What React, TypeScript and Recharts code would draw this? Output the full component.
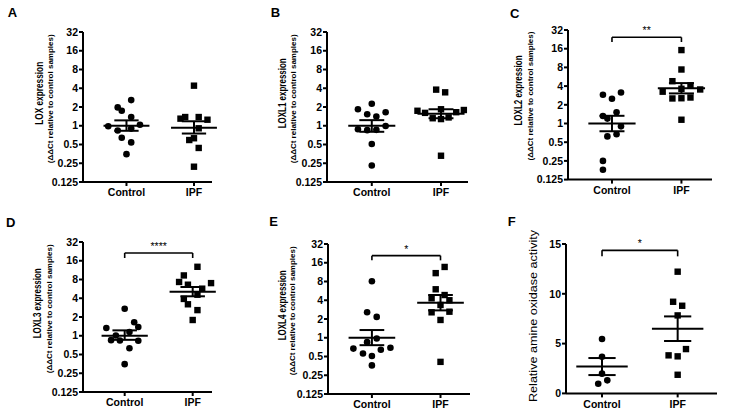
import React from 'react';
import { ScatterChart, Scatter, XAxis, YAxis, ReferenceLine } from 'recharts';

const FONT = "'Liberation Sans', Arial, Helvetica, sans-serif";

const groups = ['Control', 'IPF'];
const panelLetters = ['A', 'B', 'C', 'D', 'E', 'F'];
const logTicks = [0.125, 0.25, 0.5, 1, 2, 4, 8, 16, 32];
const linTicks = [0, 5, 10, 15];
const yTitles = ['LOX expression', 'LOXL1 expression', 'LOXL2 expression', 'LOXL3 expression', 'LOXL4 expression', 'Relative amine oxidase activity'];
const ySubTitle = '(\u0394\u0394Ct relative to control samples)';

// A – LOX
const loxCtrl = [0.98, 1.97, 1.74, 2.58, 1.38, 1.04, 0.84, 0.9, 0.64, 0.54, 0.35];
const loxCtrlJit = [-0.27, -0.13, -0.07, 0.07, 0.07, 0.2, -0.13, 0.07, -0.07, 0.07, 0];
const loxIpf = [4.4, 1.3, 1.38, 1.38, 1.25, 0.91, 0.59, 0.63, 0.44, 0.22];
const loxIpfJit = [0, -0.2, -0.13, 0.07, 0.2, 0.07, -0.07, 0, 0.07, 0];
const loxMean = [1.0, 0.93];
const loxSemLo = [0.83, 0.75];
const loxSemHi = [1.22, 1.18];

// B – LOXL1
const loxl1Ctrl = [1.84, 2.26, 1.53, 1.41, 1.65, 0.88, 0.85, 0.86, 0.99, 0.51, 0.23];
const loxl1CtrlJit = [-0.2, 0, -0.066, 0.066, 0.2, -0.2, -0.066, 0.066, 0.2, 0, 0];
const loxl1Ipf = [3.8, 3.44, 1.74, 1.61, 1.84, 1.65, 1.79, 1.32, 1.28, 1.36, 0.33];
const loxl1IpfJit = [-0.07, 0.06, -0.34, -0.23, 0, 0.22, 0.33, -0.12, 0, 0.11, 0];
const loxl1Mean = [1.0, 1.56];
const loxl1SemLo = [0.8, 1.32];
const loxl1SemHi = [1.23, 1.84];

// C – LOXL2
const loxl2Ctrl = [2.9, 2.5, 3.15, 1.32, 1.2, 1.52, 0.9, 0.62, 0.67, 0.25, 0.18];
const loxl2CtrlJit = [-0.13, 0, 0.13, -0.13, -0.066, 0.066, 0.13, -0.066, 0.066, -0.13, -0.13];
const loxl2Ipf = [15.2, 7.4, 4.8, 3.25, 3.62, 4.1, 3.53, 2.53, 2.55, 2.62, 1.15];
const loxl2IpfJit = [0, 0, -0.13, -0.27, 0, 0.13, 0.27, -0.13, 0, 0.13, 0];
const loxl2Mean = [1.0, 3.7];
const loxl2SemLo = [0.75, 3.05];
const loxl2SemHi = [1.33, 4.47];

// D – LOXL3
const loxl3Ctrl = [2.72, 1.65, 1.33, 1.38, 1.01, 1.15, 0.85, 0.84, 0.83, 0.63, 0.35];
const loxl3CtrlJit = [0, 0.14, -0.27, 0.2, -0.13, 0.07, -0.2, -0.07, 0.2, 0.07, 0];
const loxl3Ipf = [12.8, 9.3, 7.3, 6.6, 7.0, 5.7, 3.9, 4.56, 3.2, 2.58, 1.79];
const loxl3IpfJit = [0.07, -0.13, -0.2, -0.07, 0.27, 0.14, -0.13, 0.07, -0.07, 0.07, 0];
const loxl3Mean = [1.0, 5.1];
const loxl3SemLo = [0.86, 4.3];
const loxl3SemHi = [1.22, 6.06];

// E – LOXL4
const loxl4Ctrl = [8.06, 2.56, 2.16, 0.97, 0.85, 0.67, 0.64, 0.69, 0.56, 0.51, 0.36];
const loxl4CtrlJit = [0, -0.07, 0.07, 0.07, -0.07, -0.27, 0.13, 0.27, -0.13, 0, 0];
const loxl4Ipf = [13.7, 10.9, 6.0, 4.85, 4.3, 4.0, 3.36, 2.56, 2.62, 1.93, 0.41];
const loxl4IpfJit = [0.06, -0.07, -0.07, 0.06, -0.13, 0.13, 0, -0.13, 0.13, 0, 0];
const loxl4Mean = [1.0, 3.66];
const loxl4SemLo = [0.76, 2.75];
const loxl4SemHi = [1.33, 4.86];

// F – amine oxidase activity
const aoCtrl = [5.46, 3.68, 1.98, 0.97, 1.31];
const aoCtrlJit = [0, 0, 0, -0.05, 0.07];
const aoIpf = [12.22, 9.2, 8.8, 7.83, 3.82, 3.72, 4.45, 1.87];
const aoIpfJit = [0, -0.06, 0.06, 0, -0.12, 0, 0.11, 0];
const aoMean = [2.71, 6.5];
const aoSemLo = [1.84, 5.26];
const aoSemHi = [3.55, 7.73];

// significance brackets
const sigText = ['', '', '**', '****', '*', '*'];
const sigBracketY = [0, 0, 24.4, 21.3, 20.8, 14.36];
const sigBracketEnd = [0, 0, 20.5, 17.7, 17.5, 13.76];

const panelData = [
  { ctrl: loxCtrl, ctrlJit: loxCtrlJit, ipf: loxIpf, ipfJit: loxIpfJit, mean: loxMean, lo: loxSemLo, hi: loxSemHi, log: true },
  { ctrl: loxl1Ctrl, ctrlJit: loxl1CtrlJit, ipf: loxl1Ipf, ipfJit: loxl1IpfJit, mean: loxl1Mean, lo: loxl1SemLo, hi: loxl1SemHi, log: true },
  { ctrl: loxl2Ctrl, ctrlJit: loxl2CtrlJit, ipf: loxl2Ipf, ipfJit: loxl2IpfJit, mean: loxl2Mean, lo: loxl2SemLo, hi: loxl2SemHi, log: true },
  { ctrl: loxl3Ctrl, ctrlJit: loxl3CtrlJit, ipf: loxl3Ipf, ipfJit: loxl3IpfJit, mean: loxl3Mean, lo: loxl3SemLo, hi: loxl3SemHi, log: true },
  { ctrl: loxl4Ctrl, ctrlJit: loxl4CtrlJit, ipf: loxl4Ipf, ipfJit: loxl4IpfJit, mean: loxl4Mean, lo: loxl4SemLo, hi: loxl4SemHi, log: true },
  { ctrl: aoCtrl, ctrlJit: aoCtrlJit, ipf: aoIpf, ipfJit: aoIpfJit, mean: aoMean, lo: aoSemLo, hi: aoSemHi, log: false },
];

// layout (pixels)
const YW = 40;
const MT = 22;
const MR = 22;
const XH = 26;
const layout = [
  { left: 83, right: 212, top: 32.3, bottom: 182.3, xDomain: [0.356, 2.267] },
  { left: 327, right: 468, top: 32.3, bottom: 182.3, xDomain: [0.353, 2.39] },
  { left: 568, right: 712, top: 29.7, bottom: 179.3, xDomain: [0.367, 2.44] },
  { left: 83, right: 212, top: 242.3, bottom: 392.3, xDomain: [0.387, 2.284] },
  { left: 328, right: 470, top: 244.3, bottom: 394.3, xDomain: [0.36, 2.43] },
  { left: 566, right: 717, top: 244.3, bottom: 393.7, xDomain: [0.524, 2.52] },
];
const letterPos = [[12.5, 12], [275.5, 12], [514.7, 13.7], [10.8, 222], [273.7, 221.3], [511.8, 221]];
const titleX = [38.7, 282, 518, 37.3, 282, 532.5];
const subX = [50, 293.5, 530, 49.5, 292.5];
const titleLen = [63, 70, 70, 70, 70, 172];

const MEAN_HW = 0.34;
const SEM_HW = 0.18;
const LW = 2;

const circleShape = (p: any) => <circle cx={p.cx} cy={p.cy} r={3.3} fill="#000" />;
const squareShape = (p: any) => <rect x={p.cx - 3.2} y={p.cy - 3.2} width={6.4} height={6.4} fill="#000" />;

function Panel({ idx }: { idx: number }) {
  const g = layout[idx];
  const d = panelData[idx];
  const w = g.right - g.left + YW + MR;
  const h = g.bottom - g.top + MT + XH;
  const ctrlData = d.ctrl.map((v, i) => ({ x: 1 + d.ctrlJit[i], y: v }));
  const ipfData = d.ipf.map((v, i) => ({ x: 2 + d.ipfJit[i], y: v }));
  const lineProps = { stroke: '#000', strokeWidth: LW, ifOverflow: 'visible' as const };
  const segs: any[] = [];
  [1, 2].forEach((gx, k) => {
    segs.push([{ x: gx - MEAN_HW, y: d.mean[k] }, { x: gx + MEAN_HW, y: d.mean[k] }]);
    segs.push([{ x: gx - SEM_HW, y: d.lo[k] }, { x: gx + SEM_HW, y: d.lo[k] }]);
    segs.push([{ x: gx - SEM_HW, y: d.hi[k] }, { x: gx + SEM_HW, y: d.hi[k] }]);
    segs.push([{ x: gx, y: d.lo[k] }, { x: gx, y: d.hi[k] }]);
  });
  const hasSig = sigText[idx] !== '';
  const tickStyle = { fill: '#000', fontSize: 10.5, fontWeight: 700, fontFamily: FONT };
  return (
    <div style={{ position: 'absolute', left: g.left - YW, top: g.top - MT, width: w, height: h }}>
      <ScatterChart width={w} height={h} margin={{ top: MT, right: MR, bottom: 0, left: 0 }}>
        <XAxis
          type="number"
          dataKey="x"
          domain={g.xDomain}
          ticks={[1, 2]}
          tickFormatter={(v: number) => groups[v - 1]}
          height={XH}
          tickSize={4}
          tickMargin={3}
          axisLine={{ stroke: '#000', strokeWidth: LW }}
          tickLine={{ stroke: '#000', strokeWidth: LW }}
          tick={{ fill: '#000', fontSize: 10.5, fontWeight: 700, fontFamily: FONT }}
        />
        <YAxis
          type="number"
          dataKey="y"
          width={YW}
          scale={d.log ? 'log' : 'linear'}
          domain={d.log ? [0.125, 32] : [0, 15]}
          ticks={d.log ? logTicks : linTicks}
          tickFormatter={(v: number) => String(v)}
          tickSize={4}
          tickMargin={1}
          interval={0}
          axisLine={{ stroke: '#000', strokeWidth: LW }}
          tickLine={{ stroke: '#000', strokeWidth: LW }}
          tick={tickStyle}
        />
        <Scatter data={ctrlData} shape={circleShape} isAnimationActive={false} />
        <Scatter data={ipfData} shape={squareShape} isAnimationActive={false} />
        {segs.map((s, i) => (
          <ReferenceLine key={i} segment={s} {...lineProps} />
        ))}
        {hasSig && (
          <ReferenceLine
            segment={[{ x: 1, y: sigBracketY[idx] }, { x: 2, y: sigBracketY[idx] }]}
            stroke="#000"
            strokeWidth={1.6}
            ifOverflow="visible"
            label={{ value: sigText[idx], position: 'top', offset: 3, fill: '#000', fontSize: 10.5, fontFamily: FONT }}
          />
        )}
        {hasSig && (
          <ReferenceLine segment={[{ x: 1, y: sigBracketY[idx] }, { x: 1, y: sigBracketEnd[idx] }]} stroke="#000" strokeWidth={1.6} ifOverflow="visible" />
        )}
        {hasSig && (
          <ReferenceLine segment={[{ x: 2, y: sigBracketY[idx] }, { x: 2, y: sigBracketEnd[idx] }]} stroke="#000" strokeWidth={1.6} ifOverflow="visible" />
        )}
      </ScatterChart>
    </div>
  );
}

function Labels() {
  return (
    <svg width={731} height={417} style={{ position: 'absolute', left: 0, top: 0, pointerEvents: 'none' }}>
      {panelLetters.map((L, i) => (
        <text key={L} x={letterPos[i][0]} y={letterPos[i][1]} textAnchor="middle" dominantBaseline="central" fontSize={13} fontWeight={700} fontFamily={FONT} fill="#000">
          {L}
        </text>
      ))}
      {yTitles.map((t, i) => {
        const g = layout[i];
        const cy = i === 5 ? 316 : (g.top + g.bottom) / 2 - 14;
        return (
          <text
            key={t}
            transform={`translate(${titleX[i]},${cy}) rotate(-90)`}
            textAnchor="middle"
            dominantBaseline="central"
            fontSize={i === 5 ? 11 : 11.5}
            fontWeight={i === 5 ? 400 : 700}
            fontFamily={FONT}
            fill="#000"
            textLength={titleLen[i]}
            lengthAdjust="spacingAndGlyphs"
          >
            {t}
          </text>
        );
      })}
      {subX.map((x, i) => {
        const g = layout[i];
        const cy = (g.top + g.bottom) / 2 - 8.5;
        return (
          <text key={i} transform={`translate(${x},${cy}) rotate(-90)`} textAnchor="middle" dominantBaseline="central" fontSize={8} fontWeight={700} fontFamily={FONT} fill="#000">
            {ySubTitle}
          </text>
        );
      })}
    </svg>
  );
}

export default function App() {
  return (
    <div style={{ position: 'absolute', left: 0, top: 0, width: 731, height: 417, background: '#fff', overflow: 'hidden' }}>
      {layout.map((_, i) => (
        <Panel key={i} idx={i} />
      ))}
      <Labels />
    </div>
  );
}
